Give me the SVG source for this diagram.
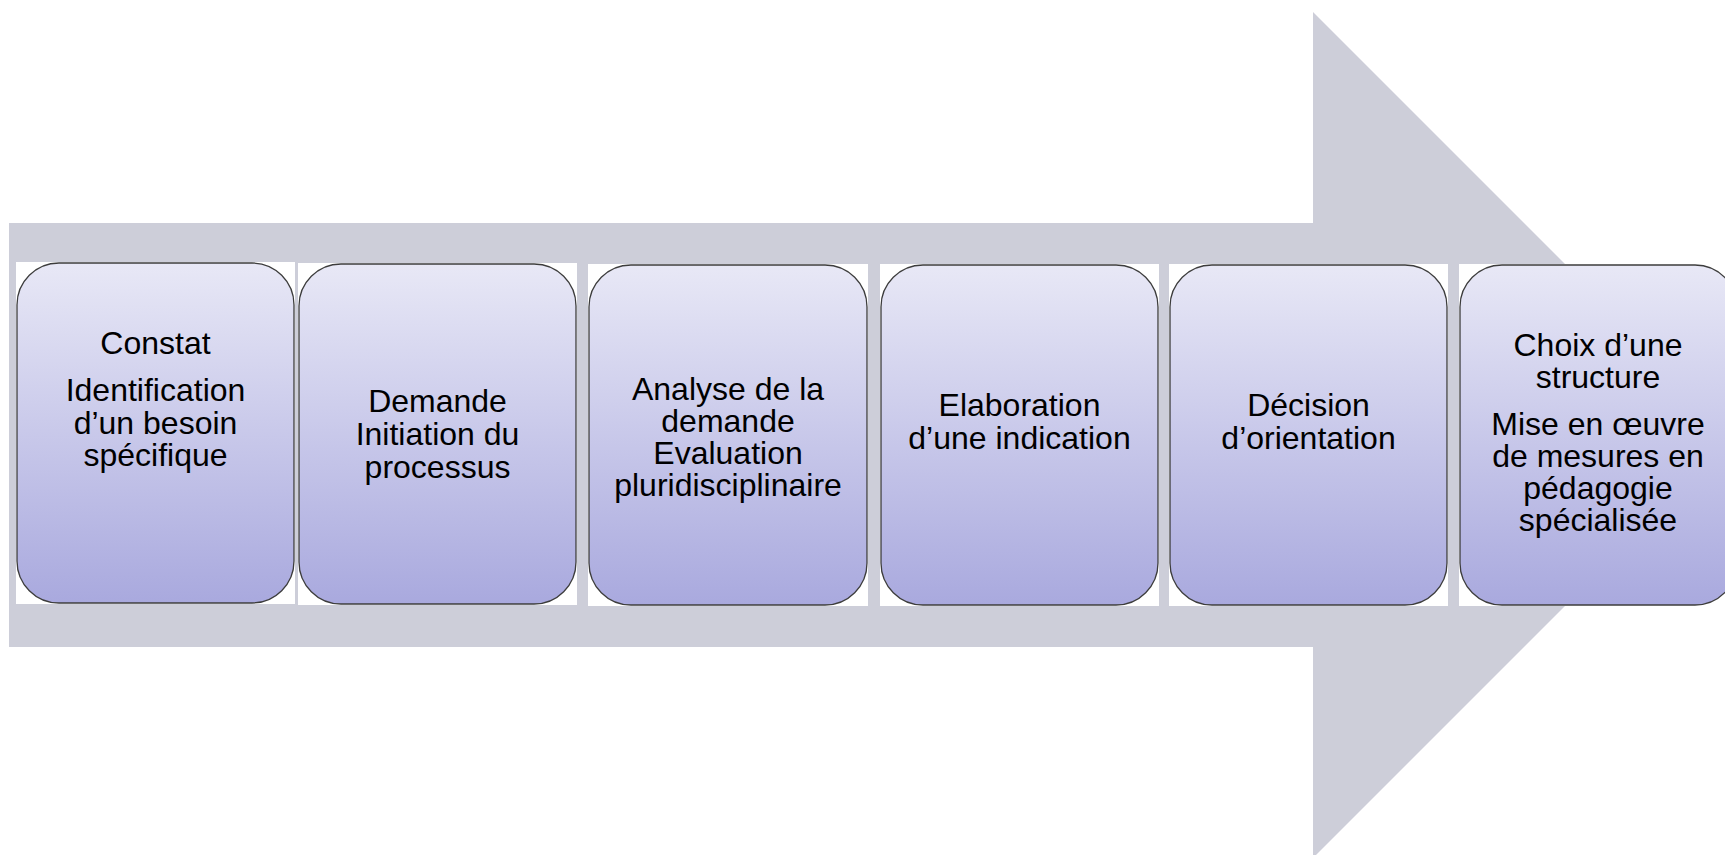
<svg xmlns="http://www.w3.org/2000/svg" width="1725" height="855" viewBox="0 0 1725 855">
<defs>
<linearGradient id="g" x1="0" y1="0" x2="0" y2="1">
<stop offset="0" stop-color="#E8E8F6"/>
<stop offset="1" stop-color="#A9A9DE"/>
</linearGradient>
<style>
.bg{fill:#FFFFFF}
.box{fill:url(#g);stroke:#3C3C3C;stroke-width:1.3}
.t{font-family:"Liberation Sans",Arial,sans-serif;font-size:32px;fill:#000;text-anchor:middle}
.arrow{fill:#CDCED9}
</style>
</defs>
<g id="arrow">
<polygon class="arrow" points="9,223 1313,223 1313,12 1736,435 1313,858 1313,647 9,647"/>
</g>
<g id="connectors"></g>
<g id="n1">
<rect class="bg" x="16" y="262" width="279" height="342"/>
<rect class="box" x="17" y="263" width="277" height="340" rx="42" ry="42"/>
<text class="t" x="155.5" y="354">Constat</text>
<text class="t" x="155.5" y="401">Identification</text>
<text class="t" x="155.5" y="433.5">d’un besoin</text>
<text class="t" x="155.5" y="466">spécifique</text>
</g>
<g id="n2">
<rect class="bg" x="298" y="263" width="279" height="342"/>
<rect class="box" x="299" y="264" width="277" height="340" rx="42" ry="42"/>
<text class="t" x="437.5" y="412">Demande</text>
<text class="t" x="437.5" y="445">Initiation du</text>
<text class="t" x="437.5" y="478">processus</text>
</g>
<g id="n3">
<rect class="bg" x="588" y="264" width="280" height="342"/>
<rect class="box" x="589" y="265" width="278" height="340" rx="42" ry="42"/>
<text class="t" x="728" y="400">Analyse de la</text>
<text class="t" x="728" y="432">demande</text>
<text class="t" x="728" y="464">Evaluation</text>
<text class="t" x="728" y="496">pluridisciplinaire</text>
</g>
<g id="n4">
<rect class="bg" x="880" y="264" width="279" height="342"/>
<rect class="box" x="881" y="265" width="277" height="340" rx="42" ry="42"/>
<text class="t" x="1019.5" y="416">Elaboration</text>
<text class="t" x="1019.5" y="449">d’une indication</text>
</g>
<g id="n5">
<rect class="bg" x="1169" y="264" width="279" height="342"/>
<rect class="box" x="1170" y="265" width="277" height="340" rx="42" ry="42"/>
<text class="t" x="1308.5" y="416">Décision</text>
<text class="t" x="1308.5" y="449">d’orientation</text>
</g>
<g id="n6">
<rect class="bg" x="1459" y="264" width="279" height="342"/>
<rect class="box" x="1460" y="265" width="277" height="340" rx="42" ry="42"/>
<text class="t" x="1598" y="356">Choix d’une</text>
<text class="t" x="1598" y="388">structure</text>
<text class="t" x="1598" y="435">Mise en œuvre</text>
<text class="t" x="1598" y="467">de mesures en</text>
<text class="t" x="1598" y="499">pédagogie</text>
<text class="t" x="1598" y="531">spécialisée</text>
</g>
</svg>
